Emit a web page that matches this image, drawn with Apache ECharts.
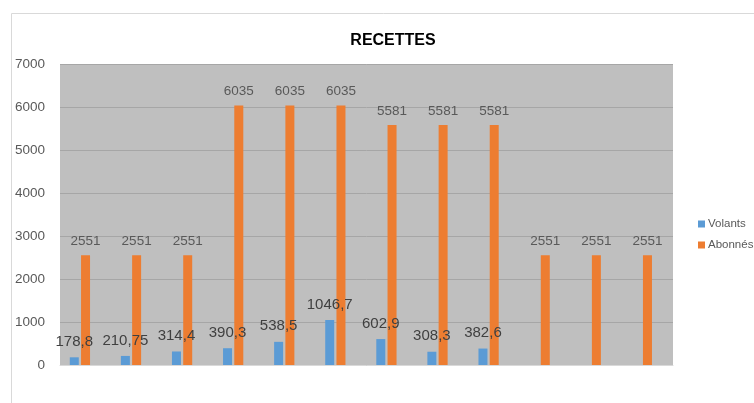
<!DOCTYPE html>
<html>
<head>
<meta charset="utf-8">
<script src="https://cdn.jsdelivr.net/npm/echarts@6/dist/echarts.min.js"></script>
<style>html,body{margin:0;padding:0;background:#fff}#c{width:754px;height:403px}</style>
</head>
<body>
<div id="c"></div>
<script>
var categories = ['1','2','3','4','5','6','7','8','9','10','11','12'];
var volants = [178.8, 210.75, 314.4, 390.3, 538.5, 1046.7, 602.9, 308.3, 382.6, null, null, null];
var abonnes = [2551, 2551, 2551, 6035, 6035, 6035, 5581, 5581, 5581, 2551, 2551, 2551];
var serie3 = [null, null, null, null, null, null, null, null, null, null, null, null];

var fmt = function (p) { return String(p.value).replace('.', ','); };
var FONT = '"Liberation Sans", Arial, sans-serif';
var chart = echarts.init(document.getElementById('c'), null, {renderer: 'canvas'});
chart.setOption({
  animation: false,
  textStyle: {fontFamily: FONT},
  title: {
    text: 'RECETTES', left: 388, top: 28, textAlign: 'center',
    textStyle: {fontSize: 16, fontWeight: 'bold', color: '#000', fontFamily: FONT}
  },
  graphic: [{
    type: 'rect', left: 9, top: 11, silent: true, z: -10,
    shape: {width: 800, height: 500},
    style: {fill: 'none', stroke: '#d9d9d9', lineWidth: 1}
  }],
  legend: {
    data: ['Volants', 'Abonnés'], orient: 'vertical', left: 693, top: 213,
    itemWidth: 7, itemHeight: 7, itemGap: 9, icon: 'rect',
    textStyle: {fontSize: 11.5, color: '#595959', fontFamily: FONT, padding: [0, 0, 0, -2]}
  },
  grid: {left: 60, right: 81, top: 64, bottom: 38, show: true, backgroundColor: '#bfbfbf', borderWidth: 0},
  xAxis: {
    type: 'category', data: categories,
    axisLine: {show: true, lineStyle: {color: '#d9d9d9', width: 1}},
    axisTick: {show: false}, axisLabel: {show: false}
  },
  yAxis: {
    type: 'value', min: 0, max: 7000, interval: 1000,
    axisLine: {show: false}, axisTick: {show: false},
    axisLabel: {fontSize: 13.5, color: '#595959', margin: 15, fontFamily: FONT,
                formatter: function (v) { return String(v); }},
    splitLine: {lineStyle: {color: '#a6a6a6', width: 1}}
  },
  series: [
    {name: 'Volants', type: 'bar', data: volants, barWidth: 9, barGap: '25%',
     itemStyle: {color: '#5b9bd5'},
     label: {show: true, position: 'top', distance: 8, fontSize: 15, color: '#404040', formatter: fmt, fontFamily: FONT}},
    {name: 'Abonnés', type: 'bar', data: abonnes, barWidth: 9, barGap: '25%',
     itemStyle: {color: '#ed7d31'},
     label: {show: true, position: 'top', distance: 7, fontSize: 13.5, color: '#595959', formatter: fmt, fontFamily: FONT}},
    {name: 'Série3', type: 'bar', data: serie3, barWidth: 9, barGap: '25%',
     itemStyle: {color: '#a5a5a5'}}
  ]
});
</script>
</body>
</html>
